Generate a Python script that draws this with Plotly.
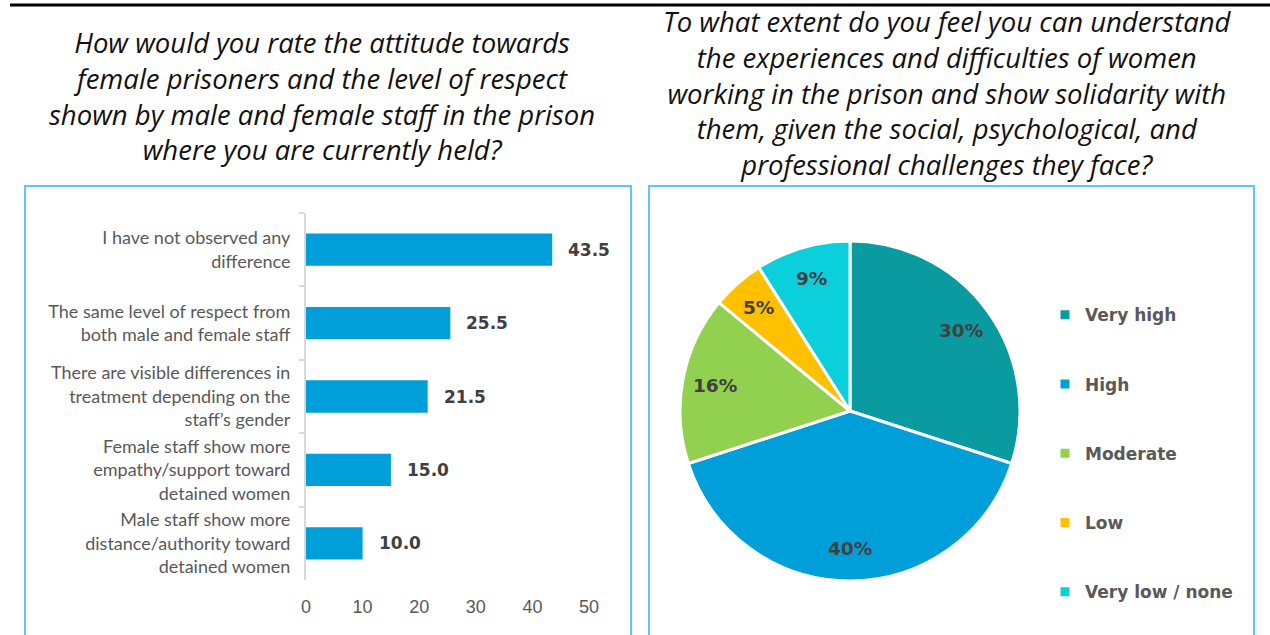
import math
import plotly.graph_objects as go

W, H = 1270, 635

# Left panel: perceived attitude of staff towards female prisoners (%)
bar_categories = [
    "I have not observed any<br>difference",
    "The same level of respect from<br>both male and female staff",
    "There are visible differences in<br>treatment depending on the<br>staff’s gender",
    "Female staff show more<br>empathy/support toward<br>detained women",
    "Male staff show more<br>distance/authority toward<br>detained women",
]
bar_values = [43.5, 25.5, 21.5, 15.0, 10.0]
bar_ticks = [0, 10, 20, 30, 40, 50]

# Right panel: understanding of / solidarity with women working in the prison
pie_labels = ["Very high", "High", "Moderate", "Low", "Very low / none"]
pie_values = [30, 40, 16, 5, 9]
pie_colors = ["#0A9BA1", "#009FD9", "#92D050", "#FFC000", "#0BCFDA"]

left_title = ("How would you rate the attitude towards<br>female prisoners and the level of respect<br>"
              "shown by male and female staff in the prison<br>where you are currently held?")
right_title = ("To what extent do you feel you can understand<br>the experiences and difficulties of women<br>"
               "working in the prison and show solidarity with<br>them, given the social, psychological, and<br>"
               "professional challenges they face?")


def px_x(p):
    return p / W


def px_y(p):
    return 1 - p / H


BAR_COLOR = "#009FD9"
BOX_COLOR = "#5AC8F7"
TEXT_GRAY = "#595959"
LABEL_DARK = "#404040"
TITLE_FONT = dict(family="Open Sans", size=27.5, color="#111111", style="italic")

# Pie placement (pixels): square domain so the circle fills it
PIE_LEFT, PIE_RIGHT, PIE_TOP, PIE_BOTTOM = 680, 1020, 241, 581
LABEL_RADIUS = 0.81  # data labels sit at this fraction of the radius

fig = go.Figure()

fig.add_trace(go.Bar(
    x=bar_values,
    y=bar_categories,
    orientation="h",
    marker=dict(color=BAR_COLOR, line=dict(width=0)),
    width=0.44,
    hoverinfo="skip",
    showlegend=False,
    xaxis="x",
    yaxis="y",
))

# Value labels just past the end of each bar
annotations = []
for cat, val in zip(bar_categories, bar_values):
    annotations.append(dict(
        x=val, y=cat, xref="x", yref="y",
        text=f"{val:.1f}", showarrow=False,
        xanchor="left", xshift=14,
        font=dict(family="DejaVu Sans", size=17, color=LABEL_DARK, weight="bold"),
    ))

# Legend labels padded with blank lines so entries are spaced out vertically
legend_names = [" <br>" + name + "<br> " for name in pie_labels]

fig.add_trace(go.Pie(
    labels=legend_names,
    values=pie_values,
    sort=False,
    direction="clockwise",
    rotation=0,
    marker=dict(colors=pie_colors, line=dict(color="white", width=3)),
    textinfo="none",
    hoverinfo="skip",
    domain=dict(x=[px_x(PIE_LEFT), px_x(PIE_RIGHT)], y=[px_y(PIE_BOTTOM), px_y(PIE_TOP)]),
))

# Percentage labels placed at the angular middle of each slice
cx = (PIE_LEFT + PIE_RIGHT) / 2
cy = (PIE_TOP + PIE_BOTTOM) / 2
radius = (PIE_RIGHT - PIE_LEFT) / 2
total = sum(pie_values)
cum = 0
for val in pie_values:
    theta = 2 * math.pi * (cum + val / 2) / total
    cum += val
    lx = cx + LABEL_RADIUS * radius * math.sin(theta)
    ly = cy - LABEL_RADIUS * radius * math.cos(theta)
    annotations.append(dict(
        x=px_x(lx), y=px_y(ly), xref="paper", yref="paper",
        text=f"{val}%", showarrow=False, xanchor="center", yanchor="middle",
        font=dict(family="DejaVu Sans", size=18.5, color=LABEL_DARK, weight="bold"),
    ))

# Titles above each panel
annotations.append(dict(
    x=px_x(322), y=px_y(21.5), xref="paper", yref="paper",
    text=left_title, showarrow=False, xanchor="center", yanchor="top",
    font=TITLE_FONT,
))
annotations.append(dict(
    x=px_x(947), y=px_y(1), xref="paper", yref="paper",
    text=right_title, showarrow=False, xanchor="center", yanchor="top",
    font=TITLE_FONT,
))

shapes = [
    # rule along the top edge
    dict(type="line", xref="paper", yref="paper",
         x0=px_x(10), x1=1, y0=px_y(5), y1=px_y(5),
         line=dict(color="#000000", width=3)),
    # panel frames
    dict(type="rect", xref="paper", yref="paper",
         x0=px_x(25), x1=px_x(631), y0=px_y(186), y1=px_y(660),
         line=dict(color=BOX_COLOR, width=2)),
    dict(type="rect", xref="paper", yref="paper",
         x0=px_x(649), x1=px_x(1254), y0=px_y(186), y1=px_y(660),
         line=dict(color=BOX_COLOR, width=2)),
]

fig.update_layout(
    width=W, height=H,
    margin=dict(l=0, r=0, t=0, b=0, autoexpand=False),
    paper_bgcolor="white",
    plot_bgcolor="white",
    bargap=0.56,
    xaxis=dict(
        domain=[px_x(306), px_x(589)],
        range=[0, 50],
        tickvals=bar_ticks,
        showgrid=False, zeroline=False, showline=False,
        ticks="", ticklabelstandoff=14,
        tickfont=dict(family="Liberation Sans", size=18, color=TEXT_GRAY),
        anchor="y",
        automargin=False,
    ),
    yaxis=dict(
        domain=[px_y(580), px_y(213)],
        autorange="reversed",
        showgrid=False, zeroline=False,
        showline=True, linecolor="#D9D9D9", linewidth=2,
        ticks="outside", tickson="boundaries", ticklen=5, tickcolor="#D9D9D9", tickwidth=2,
        ticklabelstandoff=10,
        tickfont=dict(family="Lato", size=18, color=TEXT_GRAY),
        anchor="x",
        automargin=False,
    ),
    legend=dict(
        x=px_x(1045), y=px_y(275), xanchor="left", yanchor="top",
        font=dict(family="DejaVu Sans", size=17, color=TEXT_GRAY, weight="bold"),
        bgcolor="rgba(0,0,0,0)",
        tracegroupgap=0,
        itemclick=False, itemdoubleclick=False,
    ),
    annotations=annotations,
    shapes=shapes,
)

fig.write_html("out.html")
